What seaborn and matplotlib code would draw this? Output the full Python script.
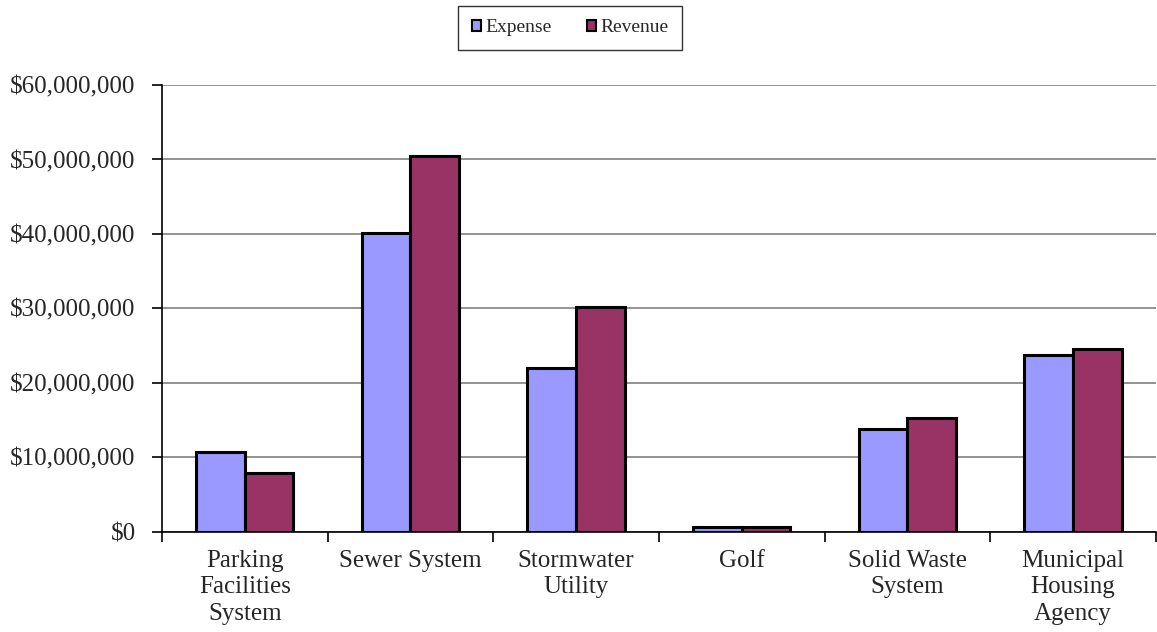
import matplotlib
matplotlib.use("Agg")
import matplotlib.pyplot as plt
import matplotlib.ticker as mticker
from matplotlib.patches import Patch
import seaborn as sns
import pandas as pd
import numpy as np

# Enterprise fund expense vs. revenue
categories = [
    "Parking\nFacilities\nSystem",
    "Sewer System",
    "Stormwater\nUtility",
    "Golf",
    "Solid Waste\nSystem",
    "Municipal\nHousing\nAgency",
]
expense = [10_750_000, 40_100_000, 22_000_000, 600_000, 13_800_000, 23_800_000]
revenue = [7_900_000, 50_400_000, 30_200_000, 600_000, 15_300_000, 24_600_000]
series = ["Expense", "Revenue"]
colors = ["#9999FF", "#993366"]
yticks = [0, 10_000_000, 20_000_000, 30_000_000, 40_000_000, 50_000_000, 60_000_000]

df = pd.DataFrame({
    "category": categories * 2,
    "series": [series[0]] * len(categories) + [series[1]] * len(categories),
    "value": expense + revenue,
})

sns.set_style("white")
plt.rcParams["font.family"] = ["Liberation Serif", "DejaVu Serif"]

fig = plt.figure(figsize=(11.57, 6.32), dpi=100)
ax = fig.add_axes([0.140, 0.1587, 0.859, 0.7068])

sns.barplot(
    data=df, x="category", y="value", hue="series",
    order=categories, hue_order=series, palette=colors,
    width=0.587, edgecolor="black", linewidth=2.2, saturation=1,
    errorbar=None, legend=False, ax=ax,
)

ax.set_ylim(0, 60_000_000)
ax.set_xlim(-0.5, len(categories) - 0.5)
ax.set_yticks(yticks)
ax.yaxis.set_major_formatter(mticker.FuncFormatter(lambda v, p: f"${v:,.0f}"))
ax.grid(axis="y", color="#808080", linewidth=1.2)
ax.set_axisbelow(True)

for side in ["top", "right"]:
    ax.spines[side].set_visible(False)
for side in ["left", "bottom"]:
    ax.spines[side].set_color("black")
    ax.spines[side].set_linewidth(1.2)

ax.set_xlabel("")
ax.set_ylabel("")
ax.tick_params(axis="y", which="major", length=7, width=1.2, color="black",
               direction="out", left=True, labelsize=18, pad=12)
ax.tick_params(axis="x", which="major", length=0, labelsize=18, pad=13)
ax.set_xticks(np.arange(-0.5, len(categories), 1.0), minor=True)
ax.tick_params(axis="x", which="minor", length=7, width=1.2, color="black",
               direction="out", bottom=True)
for lbl in ax.get_xticklabels():
    lbl.set_linespacing(1.27)
    lbl.set_verticalalignment("top")

handles = [Patch(facecolor=c, edgecolor="black", linewidth=1.5, label=s)
           for c, s in zip(colors, series)]
leg = fig.legend(
    handles=handles, loc="center", bbox_to_anchor=(570 / 1157, 1 - 28 / 632),
    ncol=2, frameon=True, fancybox=False, fontsize=14,
    handlelength=0.5, handleheight=0.5, handletextpad=0.2,
    columnspacing=1.8, borderpad=0.7, borderaxespad=0,
)
leg.get_frame().set_edgecolor("black")
leg.get_frame().set_linewidth(1.0)

fig.savefig("out.png", dpi=100)
